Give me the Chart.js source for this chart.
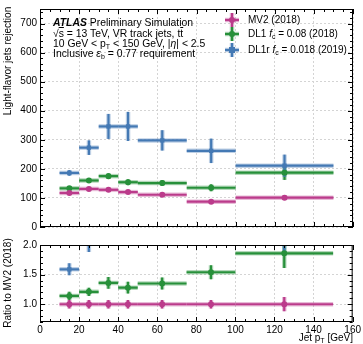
<!DOCTYPE html>
<html>
<head>
<meta charset="utf-8">
<script src="https://cdn.jsdelivr.net/npm/chart.js@4"></script>
<style>
  body { margin: 0; background: #fff; }
  #wrap { position: relative; width: 363px; height: 344px; font-family: 'Liberation Sans', Arial, sans-serif; color: #000; }
  canvas { position: absolute; left: 0; }
  .txt { position: absolute; white-space: nowrap; font-size: 10px; line-height: 12px; }
  .ann { font-size: 10.4px; }
  .ytitle { position: absolute; white-space: nowrap; font-size: 10px; line-height: 12px; transform: translate(-50%, -50%) rotate(-90deg); }
  sub { font-size: 7px; vertical-align: -2px; line-height: 0; }
  .ol { text-decoration: overline; }
</style>
</head>
<body>
<div id="wrap">
  <canvas id="top" width="363" height="236" style="top:0"></canvas>
  <canvas id="ratio" width="363" height="108" style="top:236px"></canvas>

  <div class="ytitle" style="left:8px;top:61px">Light-flavor jets rejection</div>
  <div class="ytitle" style="left:8px;top:283px">Ratio to MV2 (2018)</div>

  <div class="txt ann" style="left:53px;top:17px"><b><i>ATLAS</i></b> Preliminary Simulation</div>
  <div class="txt ann" style="left:53px;top:28px">&radic;<span class="ol">s</span> = 13 TeV, VR track jets, t<span class="ol">t</span></div>
  <div class="txt ann" style="left:53px;top:38px">10 GeV &lt; p<sub>T</sub> &lt; 150 GeV, |<i>&eta;</i>| &lt; 2.5</div>
  <div class="txt ann" style="left:53px;top:47.5px">Inclusive <i>&epsilon;</i><sub>b</sub> = 0.77 requirement</div>

  <div class="txt" style="left:248px;top:14px">MV2 (2018)</div>
  <div class="txt" style="left:248px;top:28px">DL1 <i>f</i><sub>c</sub> = 0.08 (2018)</div>
  <div class="txt" style="left:248px;top:44px">DL1r <i>f</i><sub>c</sub> = 0.018 (2019)</div>

  <div class="txt" style="right:10px;top:332px">Jet p<sub>T</sub> [GeV]</div>
</div>
<script>
// pT bins
var binLo = [10, 20, 30, 40, 50, 75, 100];
var binHi = [20, 30, 40, 50, 75, 100, 150];
var binCenter = [15, 25, 35, 45, 62.5, 87.5, 125];

// light-flavour rejection (top panel)
var mv2Rej = [117, 131, 128, 120, 111, 87, 101];
var mv2Err = [5, 5, 5, 5, 5, 4, 8];
var dl1Rej = [133, 160, 175, 154, 151, 135, 187];
var dl1Err = [6, 7, 10, 10, 10, 12, 25];
var dl1rRej = [186, 273, 346, 346, 298, 262, 211];
var dl1rErr = [10, 25, 43, 50, 35, 42, 38];

// ratio to MV2 (bottom panel)
var mv2Ratio = [1, 1, 1, 1, 1, 1, 1];
var mv2RatioErr = [0.07, 0.07, 0.07, 0.07, 0.07, 0.07, 0.12];
var dl1Ratio = [1.14, 1.21, 1.36, 1.28, 1.35, 1.54, 1.86];
var dl1RatioErr = [0.07, 0.07, 0.1, 0.1, 0.1, 0.12, 0.25];
var dl1rRatio = [1.59, 2.09, 2.70, 2.88, 2.68, 3.01, 2.09];
var dl1rRatioErr = [0.1, 0.21, 0.4, 0.45, 0.35, 0.5, 0.27];

// tick labels
var xTicks = [0, 20, 40, 60, 80, 100, 120, 140, 160];
var yTicksTop = [0, 100, 200, 300, 400, 500, 600, 700];
var yTicksRatio = [1.0, 1.5, 2.0];

var colMV2 = '#bb3b8b';
var colDL1 = '#27903a';
var colDL1r = '#4479b4';
var halo = { '#bb3b8b': 'rgba(187,59,139,0.35)', '#27903a': 'rgba(39,144,58,0.35)', '#4479b4': 'rgba(68,121,180,0.35)' };

Chart.defaults.font.family = "'Liberation Sans', Arial, sans-serif";
Chart.defaults.font.size = 10;
Chart.defaults.color = '#000';

function series(label, vals, errs, color, style) {
  return {
    label: label,
    data: binCenter.map(function (x, i) { return { x: x, y: vals[i] }; }),
    errs: errs,
    backgroundColor: color,
    borderColor: color,
    borderWidth: 0,
    pointRadius: 3,
    pointStyle: style,
    showLine: false,
    clip: 0
  };
}

// bin width + vertical error bars
var errorBars = {
  id: 'errorBars',
  beforeDatasetsDraw: function (chart) {
    var ctx = chart.ctx, xs = chart.scales.x, ys = chart.scales.y, a = chart.chartArea;
    ctx.save();
    ctx.beginPath();
    ctx.rect(a.left, a.top, a.right - a.left, a.bottom - a.top);
    ctx.clip();
    chart.data.datasets.forEach(function (ds) {
      ds.data.forEach(function (p, i) {
        var y = ys.getPixelForValue(p.y);
        var x = xs.getPixelForValue(p.x);
        var segs = [
          [xs.getPixelForValue(binLo[i]), y, xs.getPixelForValue(binHi[i]), y],
          [x, ys.getPixelForValue(p.y - ds.errs[i]), x, ys.getPixelForValue(p.y + ds.errs[i])]
        ];
        segs.forEach(function (s) {
          ctx.strokeStyle = halo[ds.borderColor];
          ctx.lineWidth = 4.5;
          ctx.beginPath(); ctx.moveTo(s[0], s[1]); ctx.lineTo(s[2], s[3]); ctx.stroke();
          ctx.strokeStyle = ds.borderColor;
          ctx.lineWidth = 2.2;
          ctx.beginPath(); ctx.moveTo(s[0], s[1]); ctx.lineTo(s[2], s[3]); ctx.stroke();
        });
      });
    });
    ctx.restore();
  }
};

// box frame with inward major/minor ticks on all sides
function framePlugin(xMinor, yMinor) {
  return {
    id: 'frame',
    afterDraw: function (chart) {
      var ctx = chart.ctx, a = chart.chartArea, xs = chart.scales.x, ys = chart.scales.y;
      ctx.save();
      ctx.strokeStyle = '#000';
      ctx.lineWidth = 1;
      ctx.strokeRect(a.left + 0.5, a.top + 0.5, a.right - a.left - 1, a.bottom - a.top - 1);
      ctx.beginPath();
      var v, px, len;
      for (v = xs.min; v <= xs.max + 1e-9; v += xMinor) {
        px = Math.round(xs.getPixelForValue(v)) + 0.5;
        len = Math.abs(v % 20) < 1e-6 ? 5 : 3;
        ctx.moveTo(px, a.bottom); ctx.lineTo(px, a.bottom - len);
        ctx.moveTo(px, a.top); ctx.lineTo(px, a.top + len);
      }
      var major = ys.max > 10 ? 100 : 0.5;
      for (v = Math.ceil(ys.min / yMinor) * yMinor; v <= ys.max + 1e-9; v += yMinor) {
        px = Math.round(ys.getPixelForValue(v)) + 0.5;
        var r = Math.abs(v / major - Math.round(v / major));
        len = r < 1e-6 ? 5 : 3;
        ctx.moveTo(a.left, px); ctx.lineTo(a.left + len, px);
        ctx.moveTo(a.right, px); ctx.lineTo(a.right - len, px);
      }
      ctx.stroke();
      ctx.restore();
    }
  };
}

// legend crosses
var legendMarks = {
  id: 'legendMarks',
  afterDraw: function (chart) {
    var ctx = chart.ctx;
    var items = [[colMV2, 20, 'circle'], [colDL1, 34, 'circle'], [colDL1r, 50, 'rect']];
    items.forEach(function (it) {
      var x = 232, y = it[1];
      [[x - 7, y, x + 7, y], [x, y - 7, x, y + 7]].forEach(function (s) {
        ctx.strokeStyle = halo[it[0]]; ctx.lineWidth = 4.5;
        ctx.beginPath(); ctx.moveTo(s[0], s[1]); ctx.lineTo(s[2], s[3]); ctx.stroke();
        ctx.strokeStyle = it[0]; ctx.lineWidth = 2.2;
        ctx.beginPath(); ctx.moveTo(s[0], s[1]); ctx.lineTo(s[2], s[3]); ctx.stroke();
      });
      ctx.fillStyle = it[0];
      if (it[2] === 'rect') { ctx.fillRect(x - 3, y - 3, 6, 6); }
      else { ctx.beginPath(); ctx.arc(x, y, 3, 0, Math.PI * 2); ctx.fill(); }
    });
  }
};

function axes(yMin, yMax, yTicks, showX, xH) {
  var grid = { color: '#d4d4d4', drawTicks: false, lineWidth: 1 };
  var border = { display: false, dash: [2, 2] };
  return {
    x: {
      type: 'linear', min: 0, max: 160,
      afterBuildTicks: function (s) { s.ticks = xTicks.map(function (v) { return { value: v }; }); },
      ticks: { display: showX, padding: 2, font: { size: 10 } },
      grid: grid, border: border,
      afterFit: function (s) { s.height = xH; }
    },
    y: {
      type: 'linear', min: yMin, max: yMax,
      afterBuildTicks: function (s) { s.ticks = yTicks.map(function (v) { return { value: v }; }); },
      ticks: { padding: 3, font: { size: 10 }, callback: function (v) { return yMax > 10 ? v : v.toFixed(1); } },
      grid: grid, border: border,
      afterFit: function (s) { s.width = 40; }
    }
  };
}

new Chart(document.getElementById('top'), {
  type: 'scatter',
  data: {
    datasets: [
      series('MV2 (2018)', mv2Rej, mv2Err, colMV2, 'circle'),
      series('DL1 fc = 0.08 (2018)', dl1Rej, dl1Err, colDL1, 'circle'),
      series('DL1r fc = 0.018 (2019)', dl1rRej, dl1rErr, colDL1r, 'rect')
    ]
  },
  options: {
    responsive: false, animation: false,
    layout: { padding: { top: 8, right: 10, left: 0, bottom: 0 } },
    plugins: { legend: { display: false }, tooltip: { enabled: false } },
    scales: axes(0, 750, yTicksTop, false, 6)
  },
  plugins: [errorBars, framePlugin(5, 20), legendMarks]
});

new Chart(document.getElementById('ratio'), {
  type: 'scatter',
  data: {
    datasets: [
      series('MV2 (2018)', mv2Ratio, mv2RatioErr, colMV2, 'circle'),
      series('DL1', dl1Ratio, dl1RatioErr, colDL1, 'circle'),
      series('DL1r', dl1rRatio, dl1rRatioErr, colDL1r, 'rect')
    ]
  },
  options: {
    responsive: false, animation: false,
    layout: { padding: { top: 9, right: 10, left: 0, bottom: 0 } },
    plugins: { legend: { display: false }, tooltip: { enabled: false } },
    scales: axes(0.7, 2.0, yTicksRatio, true, 22)
  },
  plugins: [errorBars, framePlugin(5, 0.1)]
});
</script>
</body>
</html>
